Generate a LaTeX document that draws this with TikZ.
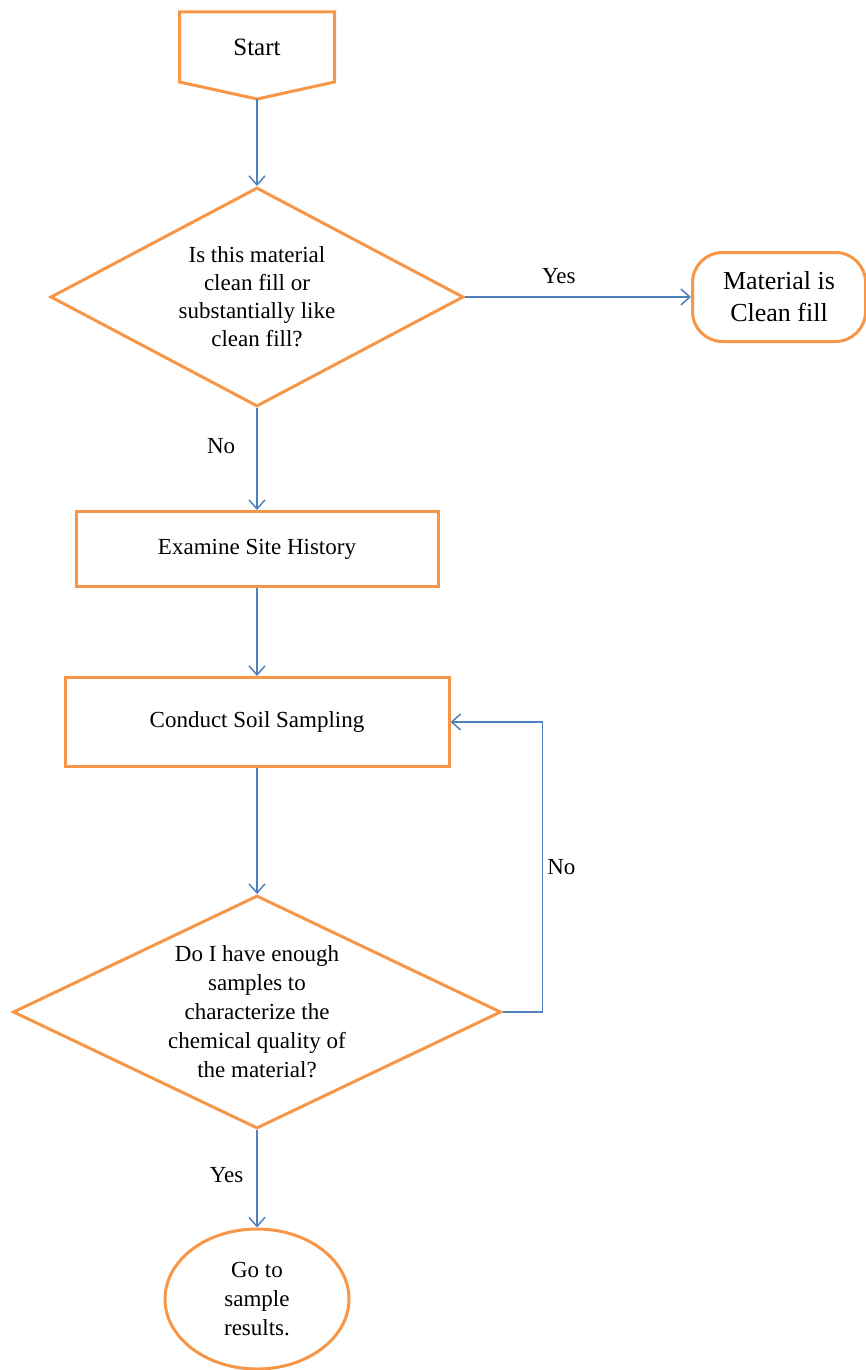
\documentclass[tikz,border=0pt]{standalone}
\usepackage{fontspec}
\setmainfont{Liberation Serif}
\usetikzlibrary{shapes.geometric,arrows.meta,positioning}
\definecolor{boxorange}{HTML}{F79646}
\definecolor{lineblue}{HTML}{4F81BD}
\begin{document}
\begin{tikzpicture}[x=0.5pt,y=-0.5pt,
    every node/.style={font=\fontsize{11.5}{14}\selectfont},
    box/.style={draw=boxorange,line width=1.5pt,rectangle,align=center},
    dec/.style={draw=boxorange,line width=1.5pt,diamond,align=center,
          inner sep=0pt},
    flow/.style={draw=lineblue,line width=0.75pt,
          -{Straight Barb[length=4.5pt,width=8pt]}},
    lbl/.style={inner sep=0pt}]
  \useasboundingbox (0,0) rectangle (866,1370);
  \node[outer sep=0pt,minimum width=77.5pt,minimum height=35pt,
        font=\fontsize{12.5}{15}\selectfont] (start) at (257,47) {Start};
  \draw[boxorange,line width=1.5pt] (start.north west) -- (start.north east)
       -- (start.south east) -- ([yshift=-8.5pt]start.south) coordinate (startpt)
       -- (start.south west) -- cycle;
  \node[dec,aspect=1.89,minimum width=206.5pt,minimum height=109.5pt] (clean)
       at (257,297) {Is this material\\clean  fill or\\substantially like\\clean  fill?};
  \node[box,rounded corners=15pt,minimum width=86.5pt,minimum height=44.5pt,
        font=\fontsize{13}{16}\selectfont] (fill) at (779,297)
       {Material is\\Clean fill};
  \node[box,minimum width=181pt,minimum height=37.5pt] (history) at (257,549)
       {Examine  Site History};
  \node[box,minimum width=192pt,minimum height=44.5pt] (sampling) at (257,722)
       {Conduct Soil Sampling};
  \node[dec,aspect=2.09,minimum width=244pt,minimum height=116.5pt,
        font=\fontsize{11.5}{14.5}\selectfont] (enough) at (257,1012)
       {Do I have enough\\samples to\\characterize the\\chemical  quality of\\the material?};
  \node[draw=boxorange,line width=1.5pt,ellipse,inner sep=0pt,align=center,
        minimum width=92pt,minimum height=70pt,
        font=\fontsize{11.5}{14.5}\selectfont] (results) at (257,1299)
       {Go to\\sample\\results.};
  \draw[flow] (startpt) -- (clean.north);
  \draw[flow] (clean.east) to node[lbl,above=6.5pt,pos=0.415] {Yes} (fill.west);
  \draw[flow] (clean.south) to node[lbl,left=10.5pt,pos=0.37] {No} (history.north);
  \draw[flow] (history.south) -- (sampling.north);
  \draw[flow] (sampling.south) -- (enough.north);
  \draw[flow] (enough.east) -- ++(40,0) |- node[lbl,right=2pt,pos=0.25] {No}
       (sampling.east);
  \draw[flow] (enough.south) to node[lbl,left=6.5pt,pos=0.46] {Yes} (results.north);
\end{tikzpicture}
\end{document}
